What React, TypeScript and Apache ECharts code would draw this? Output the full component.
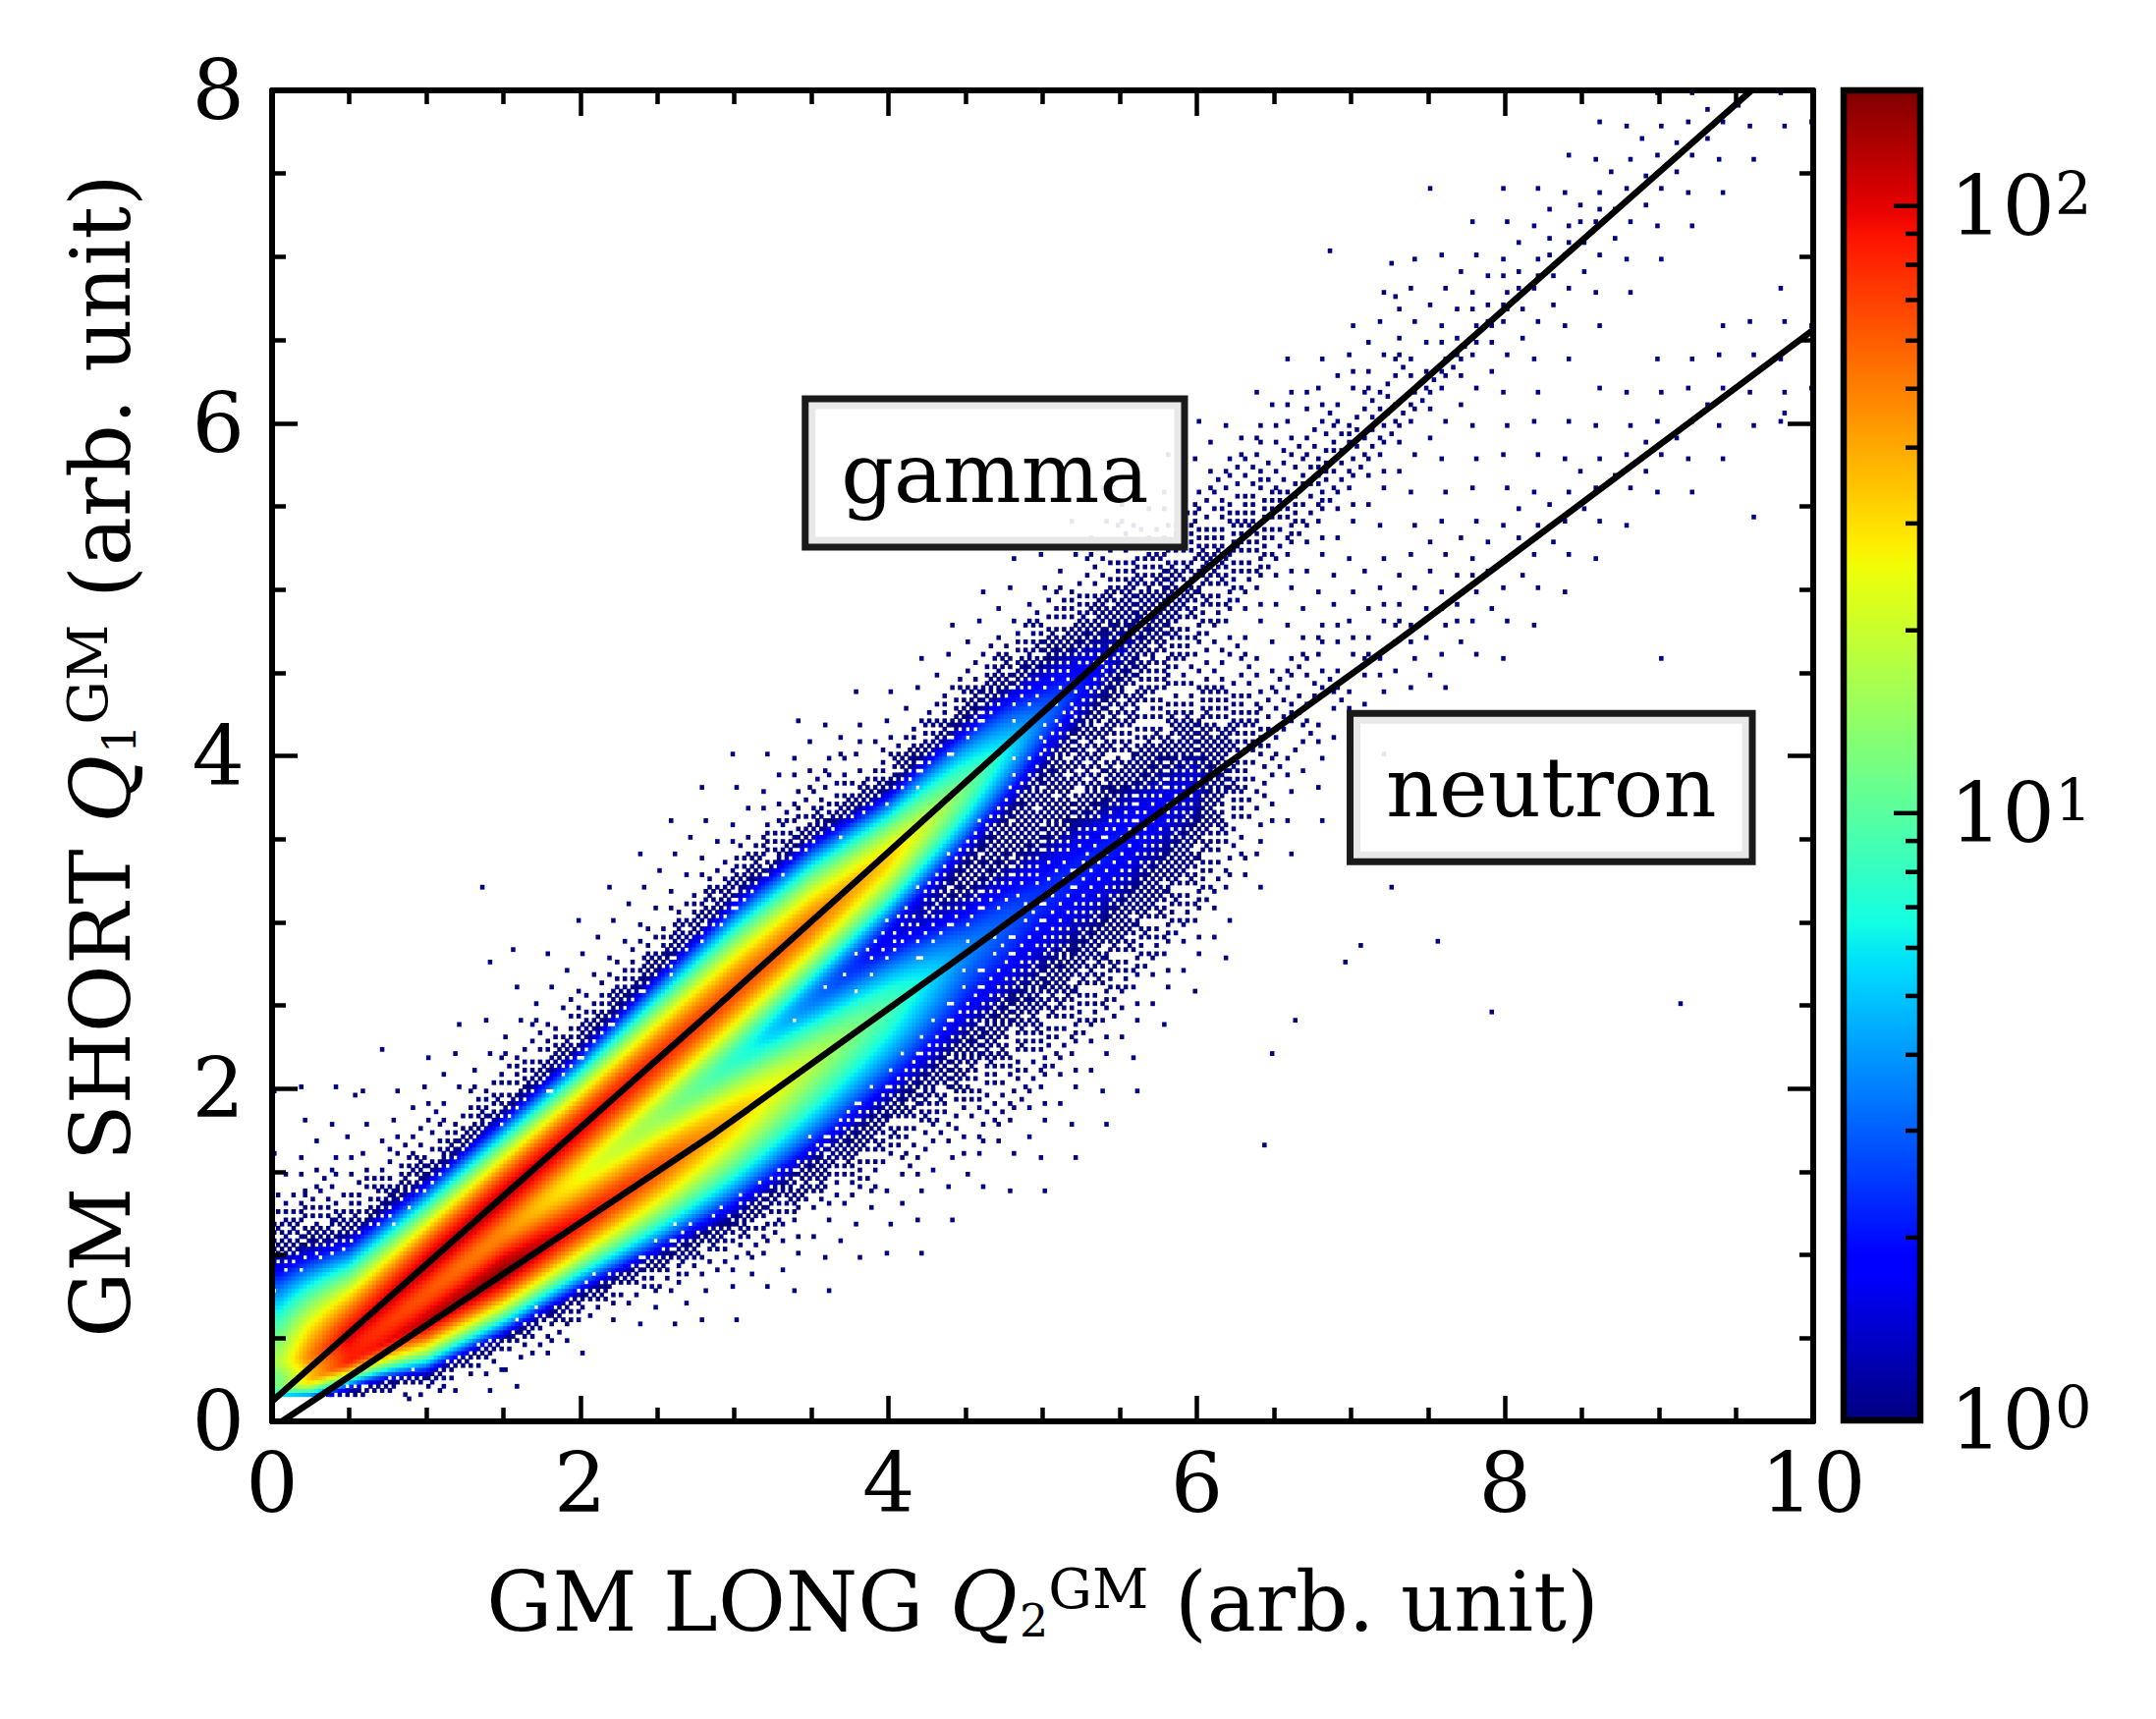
import React, { useEffect, useRef } from 'react';
import * as echarts from 'echarts';

// ---------------- data ----------------
// band description along GM LONG (x), read at these knots
const knotX = [0.05, 0.25, 0.5, 1, 1.5, 2, 2.5, 3, 3.5, 4, 4.5, 5, 5.5, 6, 6.5, 7, 8, 9, 10];

// gamma band: ridge position, log10 of ridge count, width above / below
const gammaCenter = [0.36, 0.4, 0.52, 0.94, 1.35, 1.76, 2.17, 2.58, 2.99, 3.38, 3.8, 4.22, 4.63, 5.05, 5.45, 5.86, 6.68, 7.5, 8.32];
const gammaPeak = [1.2, 1.65, 1.95, 2.05, 2.05, 1.98, 1.9, 1.8, 1.72, 1.5, 1.05, 0.5, 0.1, -0.3, -0.55, -0.8, -1.25, -1.45, -1.6];
const gammaUp = [0.55, 0.46, 0.37, 0.31, 0.3, 0.3, 0.34, 0.38, 0.36, 0.32, 0.4, 0.52, 0.58, 0.62, 0.66, 0.7, 0.8, 0.85, 0.85];
const gammaDown = [0.2, 0.18, 0.2, 0.25, 0.27, 0.3, 0.32, 0.34, 0.33, 0.33, 0.38, 0.45, 0.48, 0.5, 0.55, 0.6, 0.7, 0.75, 0.75];

// neutron band
const neutronCenter = [0.2, 0.25, 0.36, 0.6, 0.9, 1.2, 1.52, 1.84, 2.17, 2.5, 2.83, 3.17, 3.5, 3.84, 4.18, 4.52, 5.2, 5.88, 6.56];
const neutronPeak = [0.9, 1.4, 1.8, 2.05, 2.15, 1.95, 1.8, 1.55, 1.25, 0.95, 0.55, 0.35, 0.3, 0.15, -0.8, -1.1, -1.4, -1.6, -1.7];
const neutronUp = [0.15, 0.18, 0.2, 0.24, 0.27, 0.3, 0.32, 0.34, 0.36, 0.4, 0.48, 0.6, 0.62, 0.62, 0.65, 0.75, 0.75, 0.75, 0.75];
const neutronDown = [0.08, 0.09, 0.1, 0.2, 0.24, 0.28, 0.36, 0.45, 0.52, 0.6, 0.75, 0.9, 0.85, 0.75, 0.75, 0.75, 0.75, 0.75, 0.75];
// how sharp the lower edge of the neutron band is (relative tail level, log10)
const neutronDownTail = [-2.6, -2.6, -2.6, -2.6, -2.6, -2.5, -2.2, -1.8, -1.5, -1.3, -1.3, -1.3, -1.3, -1.3, -1.3, -1.3, -1.3, -1.3, -1.3];

// isolated single-count events
const outlierX = [9.14, 7.91, 6.43, 6.49, 7.05, 9.01, 9.62, 9.82, 7.51, 6.86, 7.25, 7.29, 0.88, 1.52, 0.54, 0.72, 1.36, 1.56, 1.42, 0.22, 7.27, 7.55, 6.63, 6.97];
const outlierY = [2.5, 2.46, 1.66, 2.22, 2.86, 4.59, 5.43, 6.07, 7.41, 7.03, 6.97, 6.75, 0.15, 0.31, 1.95, 2.23, 3.21, 2.83, 2.76, 1.37, 3.21, 2.89, 2.41, 2.76];

// discrimination lines
const gammaLineX = [0, 2.87, 3.77, 5.56, 6.66, 9.6];
const gammaLineY = [0.12, 2.48, 3.23, 4.73, 5.59, 8.0];
const neutronLineX = [0.064, 2.87, 4.42, 7.3, 10];
const neutronLineY = [0, 1.73, 2.76, 4.69, 6.56];

// annotations
const annotationText = ['gamma', 'neutron'];
const annotationX = [4.69, 8.3];
const annotationY = [5.7, 3.81];

// colour bar
const countMax = 155;
const colorbarMajor = [0, 1, 2];
const colorbarMinorCounts = [2, 3, 4, 5, 6, 7, 8, 9, 20, 30, 40, 50, 60, 70, 80, 90];

// ---------------- construction ----------------
const FONT = 'DejaVu Serif';
const LOG_MAX = Math.log10(countMax);
const DX = 0.025;
const DY = 0.025;
const Y_CUT = 0.16;
// band profile shape: core exponent, relative tail level and tail width
const CORE_P = 1.5;
const TAIL_LOG = -1.3;
const TAIL_W = 1.5;

function interp(xs: number[], ys: number[], x: number) {
  if (x <= xs[0]) return ys[0];
  for (let i = 1; i < xs.length; i++) {
    if (x <= xs[i]) {
      const f = (x - xs[i - 1]) / (xs[i] - xs[i - 1]);
      return ys[i - 1] + f * (ys[i] - ys[i - 1]);
    }
  }
  return ys[ys.length - 1];
}

function bandCount(peak: number, d: number, s: number, tail: number) {
  const u = Math.abs(d) / s;
  return Math.pow(10, peak - Math.pow(u, CORE_P)) + Math.pow(10, peak + tail - u / TAIL_W);
}

function jet(t: number) {
  const clamp = (v: number) => Math.max(0, Math.min(1, v));
  let r = 0, g = 0, b = 0;
  if (t < 0.35) r = 0;
  else if (t < 0.66) r = (t - 0.35) / 0.31;
  else if (t < 0.89) r = 1;
  else r = 1 - (0.5 * (t - 0.89)) / 0.11;
  if (t < 0.125) g = 0;
  else if (t < 0.375) g = (t - 0.125) / 0.25;
  else if (t < 0.64) g = 1;
  else if (t < 0.91) g = 1 - (t - 0.64) / 0.27;
  else g = 0;
  if (t < 0.11) b = 0.5 + (0.5 * t) / 0.11;
  else if (t < 0.34) b = 1;
  else if (t < 0.65) b = 1 - (t - 0.34) / 0.31;
  else b = 0;
  return `rgb(${Math.round(clamp(r) * 255)},${Math.round(clamp(g) * 255)},${Math.round(clamp(b) * 255)})`;
}
const JET = Array.from({ length: 65 }, (_, i) => jet(i / 64));

// ordered-dither threshold matrix
const BAYER = [
  [0, 32, 8, 40, 2, 34, 10, 42],
  [48, 16, 56, 24, 50, 18, 58, 26],
  [12, 44, 4, 36, 14, 46, 6, 38],
  [60, 28, 52, 20, 62, 30, 54, 22],
  [3, 35, 11, 43, 1, 33, 9, 41],
  [51, 19, 59, 27, 49, 17, 57, 25],
  [15, 47, 7, 39, 13, 45, 5, 37],
  [63, 31, 55, 23, 61, 29, 53, 21],
];

function threshold(ix: number, iy: number) {
  const bx = Math.floor(ix / 8);
  const by = Math.floor(iy / 8);
  const k = (bx * 3 + by * 5) % 8;
  let i = iy % 8;
  let j = ix % 8;
  if (k & 1) i = 7 - i;
  if (k & 2) j = 7 - j;
  if (k & 4) { const s = i; i = j; j = s; }
  return (BAYER[i][j] + 0.5) / 64;
}

function buildCells() {
  const nx = Math.round(10 / DX);
  const ny = Math.round(8 / DY);
  const forced = new Set<string>();
  outlierX.forEach((x, i) => forced.add(`${Math.floor(x / DX)}_${Math.floor(outlierY[i] / DY)}`));
  const cells: number[][] = [];
  for (let ix = 0; ix < nx; ix++) {
    const xc = (ix + 0.5) * DX;
    const gc = interp(knotX, gammaCenter, xc);
    const gp = interp(knotX, gammaPeak, xc);
    const gu = interp(knotX, gammaUp, xc);
    const gd = interp(knotX, gammaDown, xc);
    const nc = interp(knotX, neutronCenter, xc);
    const np = interp(knotX, neutronPeak, xc);
    const nu = interp(knotX, neutronUp, xc);
    const nd = interp(knotX, neutronDown, xc);
    const nt = interp(knotX, neutronDownTail, xc);
    for (let iy = 0; iy < ny; iy++) {
      const yc = (iy + 0.5) * DY;
      let c = 0;
      if (yc >= Y_CUT) {
        const dg = yc - gc;
        c += bandCount(gp, dg, dg > 0 ? gu : gd, TAIL_LOG);
        const dn = yc - nc;
        c += dn > 0 ? bandCount(np, dn, nu, TAIL_LOG) : bandCount(np, dn, nd, nt);
      }
      const isForced = forced.has(`${ix}_${iy}`);
      const prob = 1 - Math.exp(-c);
      if (isForced || prob > threshold(ix, iy)) {
        cells.push([ix * DX, iy * DY, Math.min(LOG_MAX, Math.log10(Math.max(1, c)))]);
      }
    }
  }
  return cells;
}

const titleRich = {
  t: { fontFamily: FONT, fontSize: 84, lineHeight: 84, color: '#000' },
  q: { fontFamily: FONT, fontSize: 84, lineHeight: 84, fontStyle: 'italic', color: '#000' },
  sub: { fontFamily: FONT, fontSize: 46, lineHeight: 12, verticalAlign: 'bottom', padding: [0, 0, 0, 2], color: '#000' },
  sup: { fontFamily: FONT, fontSize: 56, lineHeight: 46, verticalAlign: 'top', color: '#000' },
};

const lineStyleAxis = { color: '#000', width: 6 };
const tickStyle = { color: '#000', width: 4.5 };

function mainAxis(extra: any) {
  return {
    gridIndex: 0,
    type: 'value',
    axisLine: { show: true, onZero: false, lineStyle: lineStyleAxis },
    axisTick: { show: true, inside: true, length: 26, lineStyle: tickStyle },
    minorTick: { show: true, splitNumber: 4, length: 14, lineStyle: tickStyle },
    splitLine: { show: false },
    minorSplitLine: { show: false },
    z: 10,
    ...extra,
  };
}

function buildOption() {
  const cells = buildCells();
  const stops = JET.map((c, i) => ({ offset: i / 64, color: c }));
  const minorLogs = colorbarMinorCounts.map((c) => Math.log10(c));
  return {
    animation: false,
    backgroundColor: '#fff',
    textStyle: { fontFamily: FONT },
    grid: [
      { left: 277, top: 92, width: 1569, height: 1355 },
      { left: 1877, top: 92, width: 78, height: 1354 },
    ],
    visualMap: {
      type: 'continuous',
      show: false,
      seriesIndex: 0,
      dimension: 2,
      min: 0,
      max: LOG_MAX,
      inRange: { color: JET },
    },
    xAxis: [
      mainAxis({
        min: 0,
        max: 10,
        interval: 2,
        position: 'bottom',
        axisLabel: { fontFamily: FONT, fontSize: 84, lineHeight: 84, color: '#000', margin: 21 },
        name: '{t|GM LONG }{q|Q}{sub|2}{sup|GM}{t| (arb. unit)}',
        nameLocation: 'middle',
        nameGap: 142,
        nameTextStyle: { rich: titleRich },
      }),
      mainAxis({ min: 0, max: 10, interval: 2, position: 'top', axisLabel: { show: false } }),
      { gridIndex: 1, type: 'value', min: 0, max: 1, show: false },
    ],
    yAxis: [
      mainAxis({
        min: 0,
        max: 8,
        interval: 2,
        position: 'left',
        axisLabel: { fontFamily: FONT, fontSize: 84, lineHeight: 84, color: '#000', margin: 28 },
        name: '{t|GM SHORT }{q|Q}{sub|1}{sup|GM}{t| (arb. unit)}',
        nameLocation: 'middle',
        nameRotate: 90,
        nameGap: 132,
        nameTextStyle: { rich: titleRich },
      }),
      mainAxis({ min: 0, max: 8, interval: 2, position: 'right', axisLabel: { show: false } }),
      {
        gridIndex: 1,
        type: 'value',
        min: 0,
        max: LOG_MAX,
        position: 'right',
        axisLine: { show: false },
        axisTick: { show: false },
        axisLabel: {
          show: true,
          customValues: colorbarMajor,
          margin: 30,
          formatter: (v: number) => `{b|10}{s|${Math.round(v)}}`,
          rich: {
            b: { fontFamily: FONT, fontSize: 84, lineHeight: 84, color: '#000' },
            s: { fontFamily: FONT, fontSize: 59, lineHeight: 45, verticalAlign: 'top', color: '#000' },
          },
        },
        splitLine: { show: false },
        z: 10,
      },
    ],
    series: [
      {
        type: 'custom',
        name: 'counts',
        xAxisIndex: 0,
        yAxisIndex: 0,
        data: cells,
        encode: { x: 0, y: 1 },
        clip: true,
        silent: true,
        progressive: 0,
        z: 2,
        renderItem: (params: any, api: any) => {
          const x = api.value(0);
          const y = api.value(1);
          const a = api.coord([x, y]);
          const b = api.coord([x + DX, y + DY]);
          return {
            type: 'rect',
            shape: { x: a[0], y: b[1], width: b[0] - a[0] + 0.6, height: a[1] - b[1] + 0.6 },
            style: { fill: api.visual('color') },
          };
        },
      },
      {
        type: 'line',
        name: 'gamma line',
        xAxisIndex: 0,
        yAxisIndex: 0,
        data: gammaLineX.map((x, i) => [x, gammaLineY[i]]),
        showSymbol: false,
        symbol: 'none',
        lineStyle: { color: '#000', width: 6.5 },
        clip: true,
        silent: true,
        z: 5,
      },
      {
        type: 'line',
        name: 'neutron line',
        xAxisIndex: 0,
        yAxisIndex: 0,
        data: neutronLineX.map((x, i) => [x, neutronLineY[i]]),
        showSymbol: false,
        symbol: 'none',
        lineStyle: { color: '#000', width: 6.5 },
        clip: true,
        silent: true,
        z: 5,
      },
      {
        type: 'scatter',
        name: 'labels',
        xAxisIndex: 0,
        yAxisIndex: 0,
        data: annotationX.map((x, i) => [x, annotationY[i]]),
        symbolSize: 1,
        itemStyle: { color: 'rgba(0,0,0,0)', opacity: 1 },
        silent: true,
        z: 8,
        label: {
          show: true,
          position: 'inside',
          formatter: (p: any) => annotationText[p.dataIndex],
          fontFamily: FONT,
          fontSize: 84,
          lineHeight: 84,
          color: '#000',
          opacity: 1,
          backgroundColor: 'rgba(255,255,255,0.9)',
          borderColor: '#1a1a1a',
          borderWidth: 7,
          padding: [30, 33],
        },
      },
      {
        type: 'custom',
        name: 'colorbar',
        xAxisIndex: 2,
        yAxisIndex: 2,
        data: [[0]],
        silent: true,
        z: 2,
        renderItem: (params: any, api: any) => {
          const a = api.coord([0, 0]);
          const b = api.coord([1, LOG_MAX]);
          const xr = b[0];
          const ticks: any[] = [];
          colorbarMajor.forEach((v) => {
            const p = api.coord([1, v]);
            ticks.push({ type: 'line', shape: { x1: xr, y1: p[1], x2: xr - 27, y2: p[1] }, style: { stroke: '#000', lineWidth: 4.5 } });
          });
          minorLogs.forEach((v) => {
            const p = api.coord([1, v]);
            ticks.push({ type: 'line', shape: { x1: xr, y1: p[1], x2: xr - 15, y2: p[1] }, style: { stroke: '#000', lineWidth: 4.5 } });
          });
          return {
            type: 'group',
            children: [
              {
                type: 'rect',
                shape: { x: a[0], y: b[1], width: b[0] - a[0], height: a[1] - b[1] },
                style: {
                  fill: new echarts.graphic.LinearGradient(0, 1, 0, 0, stops),
                  stroke: '#000',
                  lineWidth: 6.5,
                },
              },
              ...ticks,
            ],
          };
        },
      },
    ],
  };
}

export default function App() {
  const ref = useRef<HTMLDivElement>(null);
  useEffect(() => {
    if (!ref.current) return;
    const chart = echarts.init(ref.current, null, { renderer: 'svg' });
    chart.setOption(buildOption() as any);
    return () => chart.dispose();
  }, []);
  return (
    <div
      ref={ref}
      style={{ position: 'fixed', left: 0, top: 0, width: 2195, height: 1750, background: '#fff' }}
    />
  );
}
